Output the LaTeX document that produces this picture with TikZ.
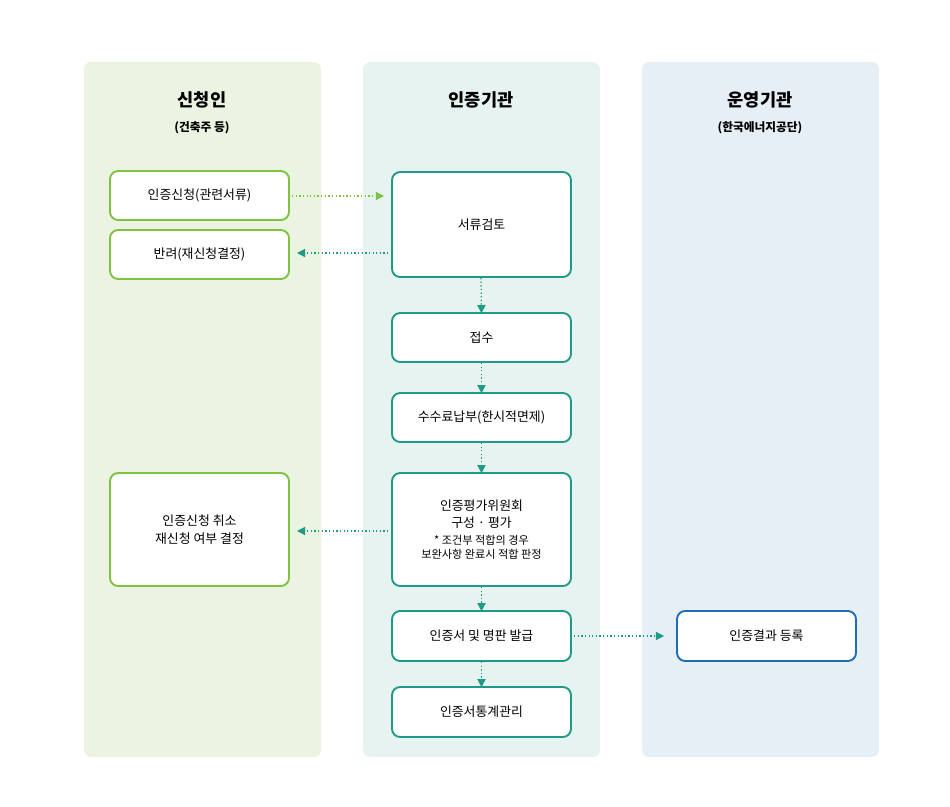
\documentclass[tikz,border=0pt]{standalone}
\usepackage{fontspec}
\setmainfont{Noto Sans CJK KR}
\usetikzlibrary{arrows.meta}
\definecolor{lanegreen}{HTML}{EBF3E1}
\definecolor{laneteal}{HTML}{E6F3F0}
\definecolor{laneblue}{HTML}{E6EEF6}
\definecolor{linegreen}{HTML}{7DC242}
\definecolor{lineteal}{HTML}{1E9A87}
\definecolor{lineblue}{HTML}{1F6DB5}
\tikzset{
  lane/.style={rounded corners=6pt, draw=none},
  procbox/.style={rectangle, rounded corners=7pt, fill=white, line width=1.6pt, align=center, inner sep=0pt, minimum width=5.37cm, font=\fontsize{11}{15}\selectfont},
  flow/.style={-{Triangle[length=7pt,width=7pt]}, dotted, line width=1.1pt},
  lanetitle/.style={font=\fontsize{15}{18}\selectfont\bfseries},
  lanesub/.style={font=\fontsize{10}{12}\selectfont\bfseries}
}
\begin{document}
\begin{tikzpicture}[x=0.03cm, y=-0.03cm]
\useasboundingbox (0,0) rectangle (950,806);
\fill[lane, lanegreen] (84,62) rectangle (321,757);
\fill[lane, laneteal] (363,62) rectangle (600,757);
\fill[lane, laneblue] (642,62) rectangle (879,757);
\node[lanetitle] (t1) at (202,100) {신청인};
\node[lanesub] (s1) at (202,128) {(건축주 등)};
\node[lanetitle] (t2) at (481,100) {인증기관};
\node[lanetitle] (t3) at (760,100) {운영기관};
\node[lanesub] (s3) at (760,128) {(한국에너지공단)};
% applicant
\node[procbox, draw=linegreen, minimum height=1.47cm] (apply) at (199.5,195.5) {인증신청(관련서류)};
\node[procbox, draw=linegreen, minimum height=1.47cm] (reject) at (199.5,254.5) {반려(재신청결정)};
\node[procbox, draw=linegreen, minimum height=3.39cm] (cancel) at (199.5,529.5) {인증신청 취소\\재신청 여부 결정};
% agency
\node[procbox, draw=lineteal, minimum height=3.15cm] (review) at (481.5,224.5) {서류검토};
\node[procbox, draw=lineteal, minimum height=1.47cm] (accept) at (481.5,337.5) {접수};
\node[procbox, draw=lineteal, minimum height=1.47cm] (fee) at (481.5,417.5) {수수료납부(한시적면제)};
\node[procbox, draw=lineteal, minimum height=3.39cm] (board) at (481.5,529.5) {인증평가위원회\\구성 · 평가\\[-1pt]{\fontsize{9.5}{13}\selectfont * 조건부 적합의 경우}\\[-3pt]{\fontsize{9.5}{13}\selectfont 보완사항 완료시 적합 판정}};
\node[procbox, draw=lineteal, minimum height=1.5cm] (issue) at (481.5,636) {인증서 및 명판 발급};
\node[procbox, draw=lineteal, minimum height=1.5cm] (stats) at (481.5,712) {인증서통계관리};
% operator
\node[procbox, draw=lineblue, minimum height=1.5cm] (record) at (766.5,636) {인증결과 등록};
% connectors
\coordinate (ap1) at (292,196);
\coordinate (ap2) at (384,196);
\coordinate (rv1) at (392,253);
\coordinate (rj1) at (297,253);
\coordinate (rv2) at (481,278);
\coordinate (bd1) at (392,531);
\coordinate (cn1) at (297,531);
\coordinate (is1) at (574,636);
\coordinate (rc1) at (664,636);
\draw[flow, linegreen] (ap1) -- (ap2);
\draw[flow, lineteal] (rv1) -- (rj1);
\draw[flow, lineteal] (rv2) -- ([yshift=-1pt]accept.north);
\draw[flow, lineteal] (accept.south) -- ([yshift=-1pt]fee.north);
\draw[flow, lineteal] (fee.south) -- ([yshift=-1pt]board.north);
\draw[flow, lineteal] (board.south) -- ([yshift=-1pt]issue.north);
\draw[flow, lineteal] (issue.south) -- ([yshift=-1pt]stats.north);
\draw[flow, lineteal] (bd1) -- (cn1);
\draw[flow, lineteal] (is1) -- (rc1);
\end{tikzpicture}
\end{document}
